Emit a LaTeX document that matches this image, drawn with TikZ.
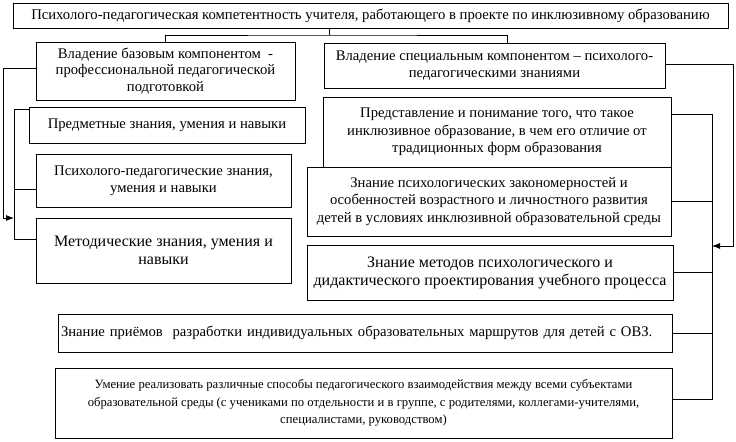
\documentclass[tikz,border=0pt]{standalone}
\usepackage{fontspec}
\setmainfont{Liberation Serif}
\usetikzlibrary{arrows.meta}
\tikzset{
  box/.style={draw,align=center,inner sep=2pt,font=\fontsize{11}{12.5}\selectfont},
  sz/.style 2 args={minimum width=#1*0.75pt,minimum height=#2*0.75pt},
  feed/.style={-{Latex[length=6pt,width=4.5pt]}}
}
\begin{document}
\begin{tikzpicture}[x=0.75pt,y=-0.75pt,line width=0.6pt]
      \useasboundingbox (0,0) rectangle (736,442);
      \draw
        (370.5,15.5) node[box,sz={715}{25}] (top){Психолого-педагогическая компетентность учителя, работающего в проекте по инклюзивному образованию}
        (165.5,71) node[box,sz={259}{58}] (base){Владение базовым компонентом~ -\\профессиональной педагогической\\подготовкой}
        (494.5,65.5) node[box,sz={341}{45},font=\fontsize{11}{13}\selectfont] (spec){Владение специальным компонентом – психолого-\\педагогическими знаниями}
        (167,125) node[box,sz={276}{36}] (subj){Предметные знания, умения и навыки}
        (163.5,180.5) node[box,sz={255}{53}] (psy){Психолого-педагогические знания,\\умения и навыки}
        (163.5,250.5) node[box,sz={255}{65},font=\fontsize{12}{14}\selectfont] (meth){Методические знания, умения и\\навыки}
        (497,132) node[box,sz={348}{70},font=\fontsize{11}{13}\selectfont] (repr){Представление и понимание того, что такое\\инклюзивное образование, в чем его отличие от\\традиционных форм образования}
        (489,201.5) node[box,sz={364}{69},font=\fontsize{11}{13.2}\selectfont] (law){Знание психологических закономерностей и\\особенностей возрастного и личностного развития\\детей в условиях инклюзивной образовательной среды}
        (490,272.5) node[box,sz={366}{55},font=\fontsize{12}{13.5}\selectfont] (design){Знание методов психологического и\\дидактического проектирования учебного процесса}
        (365,333) node[box,sz={614}{38},text width=456pt,align=left] (route){Знание приёмов~ разработки индивидуальных образовательных маршрутов для детей с ОВЗ.}
        (363.5,403) node[box,sz={617}{70},font=\fontsize{9.5}{13}\selectfont] (inter){Умение реализовать различные способы педагогического взаимодействия между всеми субъектами\\образовательной среды (с учениками по отдельности и в группе, с родителями, коллегами-учителями,\\специалистами, руководством)};
      \coordinate (tj) at (329,35);
      \coordinate (lout) at (3,218);
      \coordinate (lin) at (14,218);
      \coordinate (ltop) at (14,109);
      \coordinate (rout) at (733,246);
      \coordinate (rin) at (712,246);
      \coordinate (rtop) at (712,114);
      \begin{scope}[-]
        \draw (top.south -| tj) to (tj);
        \draw (base.north) |- (tj) -| ([xshift=10pt]spec.north);
        \draw[feed] ([yshift=2.25pt]base.west) -| (lout) to (lin);
        \draw (ltop -| subj.west) to (ltop) |- ([yshift=-7pt]psy.west);
        \draw (ltop) |- ([yshift=8pt]meth.west);
        \draw[feed] ([yshift=1pt]spec.east) -| (rout) to (rin);
        \draw (repr.east |- rtop) to (rtop) |- ([yshift=3pt]inter.east);
        \draw (law.east) to (law.east -| rtop);
        \draw (design.east) to (design.east -| rtop);
        \draw (route.east) to (route.east -| rtop);
      \end{scope}
    \end{tikzpicture}
\end{document}
